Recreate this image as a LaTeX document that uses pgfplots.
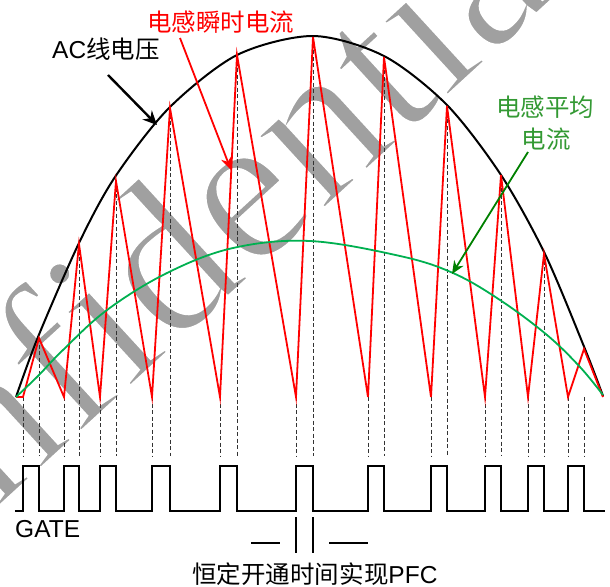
\documentclass[border=0pt]{standalone}
\usepackage{pgfplots}
\pgfplotsset{compat=1.18}
\usepackage{fontspec}
\setmainfont{Liberation Sans}
\newfontfamily\cjk{Noto Sans CJK SC}
\newfontfamily\wm{Liberation Serif}
\usetikzlibrary{arrows.meta}
\definecolor{myred}{RGB}{255,0,0}
\definecolor{mygreen}{RGB}{0,176,80}
\definecolor{arrowgreen}{RGB}{0,128,0}
\definecolor{textgreen}{RGB}{51,153,51}
\definecolor{wmgray}{RGB}{160,160,160}
\begin{document}
\begin{tikzpicture}
\begin{axis}[
  width=610pt, height=586pt, scale only axis,
  xmin=0, xmax=610, ymin=0, ymax=586, y dir=reverse,
  hide axis, clip=false, unbounded coords=jump,
]
\coordinate (bl) at (axis cs:0,586);
\coordinate (tr) at (axis cs:610,0);
% watermark
\node[rotate=42.5, text=wmgray, inner sep=0pt] at (axis cs:156,262)
  {\wm\fontsize{215pt}{215pt}\selectfont\special{pdf:literal direct 2 Tr 3.5 w 1 1 1 RG}Confidential\special{pdf:literal direct 0 Tr}};

% dashed verticals
\addplot[black!80, line width=0.9pt, dash pattern=on 4pt off 2.5pt] table {
x y
23 397
23 456
nan nan
39 338
39 456
nan nan
64 397
64 456
nan nan
79 244
79 456
nan nan
100 397
100 456
nan nan
116 181
116 456
nan nan
152 397
152 456
nan nan
170 108
170 456
nan nan
220 397
220 456
nan nan
237 55
237 456
nan nan
296 397
296 456
nan nan
313 37
313 456
nan nan
368 397
368 456
nan nan
384 57
384 456
nan nan
431 397
431 456
nan nan
447 106
447 456
nan nan
485 397
485 456
nan nan
501 175
501 456
nan nan
528 397
528 456
nan nan
544 254
544 456
nan nan
568 397
568 456
nan nan
584 397
584 456
};

% AC line voltage envelope
\addplot[black, line width=2pt, smooth, tension=0.5] coordinates {
(16,397) (38,337) (79,243) (115,177) (169,108) (237,55) (313,36)
(384,56) (447,105) (501,175) (545,254) (585,349) (603,396)};

% inductor instantaneous current
\addplot[myred, line width=1.8pt, line join=miter] coordinates {
(16,397) (23,397) (39,338) (64,397) (79,244) (100,397) (116,181) (152,397)
(170,108) (220,397) (237,55) (296,397) (313,37) (368,397) (384,57) (431,397)
(447,106) (485,397) (501,175) (528,397) (544,254) (568,397) (584,349) (603,397)};

% inductor average current
\addplot[mygreen, line width=1.8pt, smooth, tension=0.6] coordinates {
(16,397) (38,376) (63,350) (107,310) (167,273) (233,248) (310,241)
(400,256) (453,273) (500,300) (547,335) (580,367) (603,395)};

% gate signal
\addplot[black, line width=2.2pt] coordinates {
(15,511) (23,511) (23,466) (39,466) (39,511) (64,511) (64,466) (79,466) (79,511)
(100,511) (100,466) (116,466) (116,511) (152,511) (152,466) (170,466) (170,511)
(220,511) (220,466) (237,466) (237,511) (296,511) (296,466) (313,466) (313,511)
(368,511) (368,466) (384,466) (384,511) (431,511) (431,466) (447,466) (447,511)
(485,511) (485,466) (501,466) (501,511) (528,511) (528,466) (544,466) (544,511)
(568,511) (568,466) (584,466) (584,511) (605,511)};

% on-time marker
\addplot[black, line width=2pt] table {
x y
251 543
280 543
nan nan
296 517
296 553
nan nan
313 517
313 553
nan nan
329 543
368 543
};

% arrows
\draw[black, line width=2.4pt, -{Stealth[length=14pt, width=13pt]}]
  (axis cs:108,75) -- (axis cs:157,125);
\draw[myred, line width=1.8pt, -{Stealth[length=13pt, width=11pt]}]
  (axis cs:180,38) -- (axis cs:231,170);
\draw[arrowgreen, line width=1.8pt, -{Stealth[length=13pt, width=11pt]}]
  (axis cs:528,152) -- (axis cs:452,274);

% labels
\node[anchor=base west, inner sep=0pt, font=\fontsize{24.5pt}{26pt}\selectfont]
  at (axis cs:52,58) {AC{\cjk 线电压}};
\node[inner sep=0pt, text=myred, font=\fontsize{24.5pt}{26pt}\selectfont\cjk]
  at (axis cs:221,22) {电感瞬时电流};
\node[inner sep=0pt, text=textgreen, font=\fontsize{24.5pt}{26pt}\selectfont\cjk]
  at (axis cs:545,107) {电感平均};
\node[inner sep=0pt, text=textgreen, font=\fontsize{24.5pt}{26pt}\selectfont\cjk]
  at (axis cs:546,139) {电流};
\node[anchor=base west, inner sep=0pt, font=\fontsize{24.5pt}{26pt}\selectfont]
  at (axis cs:15,537) {GATE};
\node[inner sep=0pt, font=\fontsize{24.5pt}{26pt}\selectfont]
  at (axis cs:315,574) {{\cjk 恒定开通时间实现}PFC};
\end{axis}
\pgfresetboundingbox
\path (bl) rectangle (tr);
\end{tikzpicture}
\end{document}
